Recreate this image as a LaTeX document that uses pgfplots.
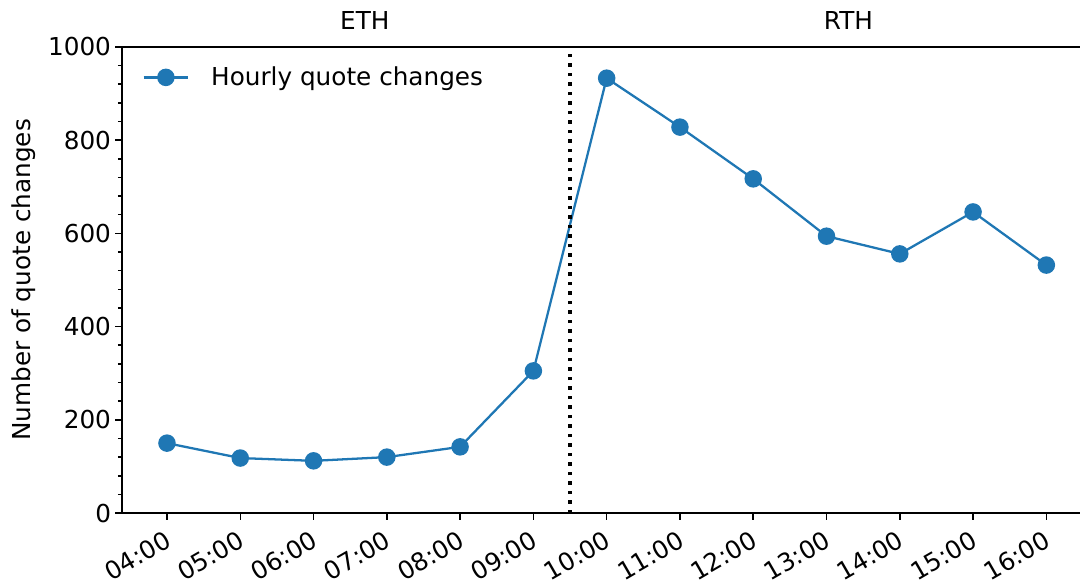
\documentclass[border=0pt]{standalone}
\usepackage{pgfplots}
\pgfplotsset{compat=1.18}
\usepackage{fontspec}
\setmainfont{DejaVu Sans}
\definecolor{mplblue}{HTML}{1F77B4}
\begin{document}
\begin{tikzpicture}
\useasboundingbox (-64.2pt,-38.4pt) rectangle (504.7pt,270pt);
\begin{axis}[
  at={(0,0)}, anchor=south west,
  width=504.2pt, height=245.3pt,
  scale only axis,
  clip=false,
  xmin=-0.614, xmax=12.46,
  ymin=0, ymax=1000,
  separate axis lines,
  axis x line*=box,
  axis y line*=left,
  axis line style={line width=0.8pt, -},
  xtick={0,1,...,12},
  xticklabels={04:00,05:00,06:00,07:00,08:00,09:00,10:00,11:00,12:00,13:00,14:00,15:00,16:00},
  xtick pos=bottom,
  xticklabel style={rotate=30, anchor=north east, inner sep=1pt, xshift=-3pt, yshift=-2.5pt},
  ytick={0,200,...,1000},
  minor y tick num=4,
  ytick pos=left,
  tick align=outside,
  major tick length=3.6pt,
  minor tick length=2.1pt,
  every tick/.style={line width=0.8pt, black},
  /pgf/number format/assume math mode=true,
  /pgf/number format/1000 sep={},
  yticklabel style={inner sep=2pt},
  ylabel={Number of quote changes},
  ylabel style={yshift=1pt},
  tick label style={font=\fontsize{13}{15}\selectfont},
  label style={font=\fontsize{13}{15}\selectfont},
  legend style={draw=none, fill=none, at={(0.015,0.975)}, anchor=north west, font=\fontsize{13}{15}\selectfont, row sep=2pt},
  legend cell align=left,
  legend image code/.code={
    \draw[#1] (0pt,0pt) -- (23.5pt,0pt);
    \draw[#1, mark repeat=1] plot coordinates {(11.75pt,0pt)};
    \path (33pt,0pt);
  },
]
\addplot[color=mplblue, line width=1.2pt, mark=*, mark size=4pt, mark options={fill=mplblue, draw=mplblue}]
  coordinates {
  (0,150) (1,118) (2,112) (3,120) (4,142) (5,305)
  (6,933) (7,828) (8,717) (9,594) (10,556) (11,646) (12,532)
  };
\addlegendentry{Hourly quote changes}
\draw[black, line width=1.8pt, dash pattern=on 1.75pt off 3.25pt] (axis cs:5.5,0) -- (axis cs:5.5,1000);
\node[font=\fontsize{13}{15}\selectfont, anchor=base] at (axis cs:2.7,1000) [yshift=9pt] {ETH};
\node[font=\fontsize{13}{15}\selectfont, anchor=base] at (axis cs:9.3,1000) [yshift=9pt] {RTH};
\end{axis}
\end{tikzpicture}
\end{document}
